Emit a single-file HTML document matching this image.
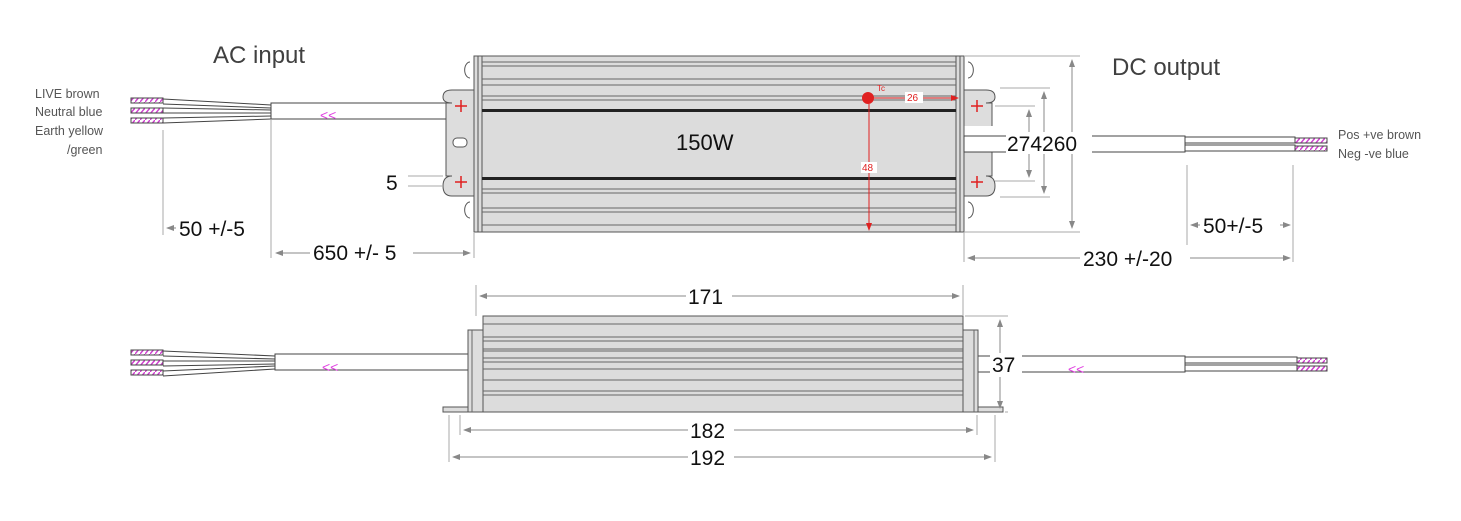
<!DOCTYPE html>
<html><head><meta charset="utf-8"><style>body{margin:0;background:#fff}svg{display:block}text{font-family:"Liberation Sans",sans-serif}</style></head><body>
<svg width="1461" height="521" viewBox="0 0 1461 521" xmlns="http://www.w3.org/2000/svg">
<defs>
<marker id="a" markerWidth="8" markerHeight="8" refX="7" refY="4" orient="auto-start-reverse"><path d="M0,1 L8,4 L0,7z" fill="#888"/></marker>
<marker id="r" markerWidth="8" markerHeight="8" refX="7" refY="4" orient="auto-start-reverse"><path d="M0,1 L8,4 L0,7z" fill="#e02020"/></marker>
<pattern id="h" width="5" height="6" patternUnits="userSpaceOnUse"><rect width="5" height="6" fill="#fff"/><path d="M0,6 L5,0" stroke="#d040d0" stroke-width="1.5"/></pattern>
</defs>
<g fill="#404040" font-size="24">
<text x="213" y="63">AC input</text><text x="1112" y="75">DC output</text>
</g>
<g fill="#555" font-size="12.5">
<text x="35" y="98">LIVE brown</text><text x="35" y="116">Neutral blue</text><text x="35" y="135">Earth yellow</text><text x="67" y="154">/green</text>
<text x="1338" y="139">Pos +ve brown</text><text x="1338" y="158">Neg -ve blue</text>
</g>
<!-- left wires top -->
<g stroke="#444" stroke-width="1" fill="#fff">
<path d="M163,99 L271,105 M163,104 L271,108"/>
<path d="M163,108 L271,110 M163,113 L271,113"/>
<path d="M163,118 L271,116 M163,123 L271,119"/>
<rect x="131" y="98" width="32" height="5" fill="url(#h)"/><rect x="131" y="108" width="32" height="5" fill="url(#h)"/><rect x="131" y="118" width="32" height="5" fill="url(#h)"/>
<rect x="271" y="103" width="175" height="16"/>
</g>
<text x="320" y="120" fill="#e040e0" font-size="14">&lt;&lt;</text>
<!-- brackets top -->
<g stroke="#555" fill="#ddd" stroke-width="1">
<path d="M474,90 L452,90 Q443,90 443,97 Q443,103 452,103 L446,103 L446,176 L452,176 Q443,176 443,186 Q443,196 452,196 L474,196 Z"/>
<rect x="453" y="138" width="14" height="9" rx="4" fill="#fff"/>
<path d="M964,90 L986,90 Q995,90 995,97 Q995,103 986,103 L992,103 L992,176 L986,176 Q995,176 995,186 Q995,196 986,196 L964,196 Z"/>
<rect x="964" y="126" width="30" height="24" fill="#fff" stroke="none"/>
<path d="M470,62 a4,6 0 0 0 0,16 M470,202 a4,6 0 0 0 0,16 M968,62 a4,6 0 0 1 0,16 M968,202 a4,6 0 0 1 0,16" fill="none"/>
</g>
<!-- body top -->
<rect x="474" y="56" width="490" height="176" fill="#dcdcdc" stroke="#555"/>
<g stroke="#555" stroke-width="1">
<line x1="478" y1="56" x2="478" y2="232"/><line x1="482" y1="56" x2="482" y2="232"/>
<line x1="956" y1="56" x2="956" y2="232"/><line x1="960" y1="56" x2="960" y2="232"/>
<g stroke="#666"><line x1="482" y1="62" x2="956" y2="62"/><line x1="482" y1="66" x2="956" y2="66"/><line x1="482" y1="79" x2="956" y2="79"/><line x1="482" y1="85" x2="956" y2="85"/><line x1="482" y1="96" x2="956" y2="96"/><line x1="482" y1="100" x2="956" y2="100"/>
<line x1="482" y1="189" x2="956" y2="189"/><line x1="482" y1="193" x2="956" y2="193"/><line x1="482" y1="208" x2="956" y2="208"/><line x1="482" y1="212" x2="956" y2="212"/><line x1="482" y1="225" x2="956" y2="225"/></g>
</g>
<rect x="482" y="109" width="474" height="3" fill="#222"/><rect x="482" y="177" width="474" height="3" fill="#222"/>
<text x="676" y="150" font-size="22" fill="#111">150W</text>
<!-- red marks -->
<g stroke="#e02020" stroke-width="1.5" fill="none">
<path d="M455,106 h12 M461,100 v12 M455,182 h12 M461,176 v12 M971,106 h12 M977,100 v12 M971,182 h12 M977,176 v12"/>
</g>
<circle cx="868" cy="98" r="6" fill="#e02020"/>
<text x="877" y="91" font-size="8" fill="#e02020">Tc</text>
<line x1="874" y1="98" x2="958" y2="98" stroke="#e02020" marker-end="url(#r)"/>
<rect x="905" y="92" width="18" height="11" fill="#fff"/><text x="907" y="101" font-size="10" fill="#e02020">26</text>
<line x1="869" y1="104" x2="869" y2="230" stroke="#e02020" marker-end="url(#r)"/>
<rect x="861" y="162" width="16" height="11" fill="#fff"/><text x="862" y="171" font-size="10" fill="#e02020">48</text>
<!-- right cable top -->
<g stroke="#444" fill="#fff">
<rect x="964" y="136" width="221" height="16"/>
<rect x="1185" y="137" width="110" height="6"/><rect x="1185" y="145" width="110" height="6"/>
<rect x="1295" y="138" width="32" height="5" fill="url(#h)"/><rect x="1295" y="146" width="32" height="5" fill="url(#h)"/>
</g>
<!-- dims top -->
<g stroke="#aaa" stroke-width="1" fill="none">
<line x1="964" y1="56" x2="1080" y2="56"/><line x1="964" y1="232" x2="1080" y2="232"/>
<line x1="1000" y1="88" x2="1050" y2="88"/><line x1="1000" y1="197" x2="1050" y2="197"/>
<line x1="995" y1="106" x2="1035" y2="106"/><line x1="995" y1="181" x2="1035" y2="181"/>
<line x1="408" y1="176" x2="443" y2="176"/><line x1="408" y1="186" x2="443" y2="186"/>
<line x1="163" y1="130" x2="163" y2="235"/><line x1="271" y1="120" x2="271" y2="258"/>
<line x1="474" y1="232" x2="474" y2="258"/><line x1="964" y1="232" x2="964" y2="262"/>
<line x1="1187" y1="165" x2="1187" y2="250"/><line x1="1293" y1="165" x2="1293" y2="262"/>
</g>
<g stroke="#888" stroke-width="1" fill="none">
<line x1="1072" y1="60" x2="1072" y2="228" marker-start="url(#a)" marker-end="url(#a)"/>
<line x1="1044" y1="92" x2="1044" y2="193" marker-start="url(#a)" marker-end="url(#a)"/>
<line x1="1029" y1="110" x2="1029" y2="177" marker-start="url(#a)" marker-end="url(#a)"/>
<line x1="167" y1="228" x2="267" y2="228" marker-start="url(#a)" marker-end="url(#a)"/>
<line x1="276" y1="253" x2="470" y2="253" marker-start="url(#a)" marker-end="url(#a)"/>
<line x1="968" y1="258" x2="1290" y2="258" marker-start="url(#a)" marker-end="url(#a)"/>
<line x1="1191" y1="225" x2="1290" y2="225" marker-start="url(#a)" marker-end="url(#a)"/>
</g>
<g font-size="21" fill="#111">
<rect x="1006" y="132" width="86" height="22" fill="#fff"/><text x="1007" y="151">274260</text>
<rect x="176" y="216" width="92" height="24" fill="#fff"/><text x="179" y="236">50 +/-5</text>
<rect x="310" y="240" width="103" height="24" fill="#fff"/><text x="313" y="260">650 +/- 5</text>
<rect x="1080" y="245" width="110" height="24" fill="#fff"/><text x="1083" y="266">230 +/-20</text>
<rect x="1200" y="213" width="80" height="24" fill="#fff"/><text x="1203" y="233">50+/-5</text>
<text x="386" y="190">5</text>
</g>
<!-- side view -->
<g stroke="#444" stroke-width="1" fill="#fff">
<path d="M163,351 L275,356 M163,356 L275,359 M163,361 L275,361 M163,366 L275,364 M163,371 L275,366 M163,376 L275,369"/>
<rect x="131" y="350" width="32" height="5" fill="url(#h)"/><rect x="131" y="360" width="32" height="5" fill="url(#h)"/><rect x="131" y="370" width="32" height="5" fill="url(#h)"/>
<rect x="275" y="354" width="195" height="16"/>
<rect x="975" y="356" width="210" height="16"/>
<rect x="1185" y="357" width="112" height="6"/><rect x="1185" y="365" width="112" height="6"/>
<rect x="1297" y="358" width="30" height="5" fill="url(#h)"/><rect x="1297" y="366" width="30" height="5" fill="url(#h)"/>
</g>
<text x="322" y="372" fill="#e040e0" font-size="14">&lt;&lt;</text>
<text x="1068" y="374" fill="#e040e0" font-size="14">&lt;&lt;</text>
<g stroke="#555" fill="#ddd">
<rect x="443" y="407" width="560" height="5"/>
<rect x="468" y="330" width="15" height="82"/><rect x="963" y="330" width="15" height="82"/>
<rect x="483" y="316" width="480" height="96" fill="#dcdcdc"/>
</g>
<g stroke="#666" stroke-width="1">
<line x1="483" y1="324" x2="963" y2="324"/><line x1="483" y1="337" x2="963" y2="337"/><line x1="483" y1="341" x2="963" y2="341"/><line x1="483" y1="349" x2="963" y2="349"/><line x1="483" y1="351" x2="963" y2="351"/><line x1="483" y1="358" x2="963" y2="358"/><line x1="483" y1="362" x2="963" y2="362"/><line x1="483" y1="369" x2="963" y2="369"/><line x1="483" y1="380" x2="963" y2="380"/><line x1="483" y1="391" x2="963" y2="391"/><line x1="483" y1="395" x2="963" y2="395"/>
<line x1="472" y1="330" x2="472" y2="412"/><line x1="974" y1="330" x2="974" y2="412"/>
</g>
<g stroke="#aaa" fill="none">
<line x1="476" y1="285" x2="476" y2="316"/><line x1="963" y1="285" x2="963" y2="316"/>
<line x1="965" y1="316" x2="1008" y2="316"/><line x1="1005" y1="412" x2="1008" y2="412"/>
<line x1="460" y1="415" x2="460" y2="435"/><line x1="977" y1="415" x2="977" y2="435"/>
<line x1="449" y1="415" x2="449" y2="462"/><line x1="995" y1="415" x2="995" y2="462"/>
</g>
<g stroke="#888" fill="none">
<line x1="480" y1="296" x2="959" y2="296" marker-start="url(#a)" marker-end="url(#a)"/>
<line x1="1000" y1="320" x2="1000" y2="408" marker-start="url(#a)" marker-end="url(#a)"/>
<line x1="464" y1="430" x2="973" y2="430" marker-start="url(#a)" marker-end="url(#a)"/>
<line x1="453" y1="457" x2="991" y2="457" marker-start="url(#a)" marker-end="url(#a)"/>
</g>
<g font-size="21" fill="#111">
<rect x="686" y="284" width="46" height="24" fill="#fff"/><text x="688" y="304">171</text>
<rect x="990" y="353" width="32" height="24" fill="#fff"/><text x="992" y="372">37</text>
<rect x="688" y="418" width="46" height="24" fill="#fff"/><text x="690" y="438">182</text>
<rect x="688" y="445" width="46" height="24" fill="#fff"/><text x="690" y="465">192</text>
</g>
</svg>
</body></html>
